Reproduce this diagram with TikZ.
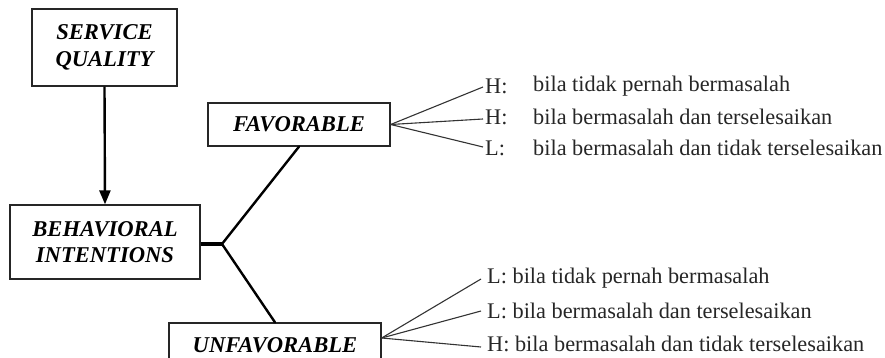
\documentclass[tikz,border=0pt]{standalone}
\usepackage{fontspec}
\setmainfont{Liberation Serif}
\usetikzlibrary{arrows.meta,calc}
\begin{document}
\begin{tikzpicture}[x=1pt,y=-1pt,
  box/.style={draw=black!85,line width=1.3pt,align=center,inner sep=0pt,
    font=\fontsize{22.6}{26.5}\selectfont\bfseries\itshape},
  fan/.style={draw=black!80,line width=1.1pt},
  lbl/.style={anchor=west,inner sep=0pt,font=\fontsize{22.3}{26}\selectfont,text=black!85},
  branch/.style={draw=black,line width=2.4pt}]
\clip (0,0) rectangle (885,358);
\node[box,minimum width=145pt,minimum height=77pt] (sq) at (104.5,47.5) {SERVICE\\QUALITY};
\node[box,minimum width=190pt,minimum height=74pt] (bi) at (105,242) {BEHAVIORAL\\INTENTIONS};
\node[box,minimum width=182pt,minimum height=43pt] (fav) at (299,124.5) {FAVORABLE};
\node[box,minimum width=212pt,minimum height=44pt] (unf) at (275,345) {UNFAVORABLE};
\coordinate (J) at (222,244);
\draw[line width=2.4pt,-{Triangle[length=14pt,width=11pt]}] (sq.south) -- (bi.north);
\draw[line width=4pt] (bi.east |- J) -- (J);
\draw[branch,line cap=round] (J) -- (fav.south);
\draw[branch,line cap=round] (J) -- (unf.north);
% favorable fan
\node[lbl] (h1) at (485,86) {H:};
\node[lbl] (h2) at (485,117) {H:};
\node[lbl] (h3) at (485,148) {L:};
\node[lbl] (t1) at (533,86) {bila tidak pernah bermasalah};
\node[lbl] (t2) at (533,117) {bila bermasalah dan terselesaikan};
\node[lbl] (t3) at (533,148) {bila bermasalah dan tidak terselesaikan};
\coordinate (fo) at (fav.east);
\draw[fan] (fo) -- ($(h1.west)+(-2,1)$);
\draw[fan] (fo) -- ($(h2.west)+(-2,2)$);
\draw[fan] (fo) -- ($(h3.west)+(-2,-1)$);
% unfavorable fan
\node[lbl] (u1) at (487,278) {L: bila tidak pernah bermasalah};
\node[lbl] (u2) at (487,311) {L: bila bermasalah dan terselesaikan};
\node[lbl] (u3) at (487,344) {H: bila bermasalah dan tidak terselesaikan};
\coordinate (uo) at ($(unf.east)+(0,-7)$);
\draw[fan] (uo) -- ($(u1.west)+(-6,1)$);
\draw[fan] (uo) -- ($(u2.west)+(-6,0)$);
\draw[fan] (uo) -- ($(u3.west)+(-6,3)$);
\end{tikzpicture}
\end{document}
